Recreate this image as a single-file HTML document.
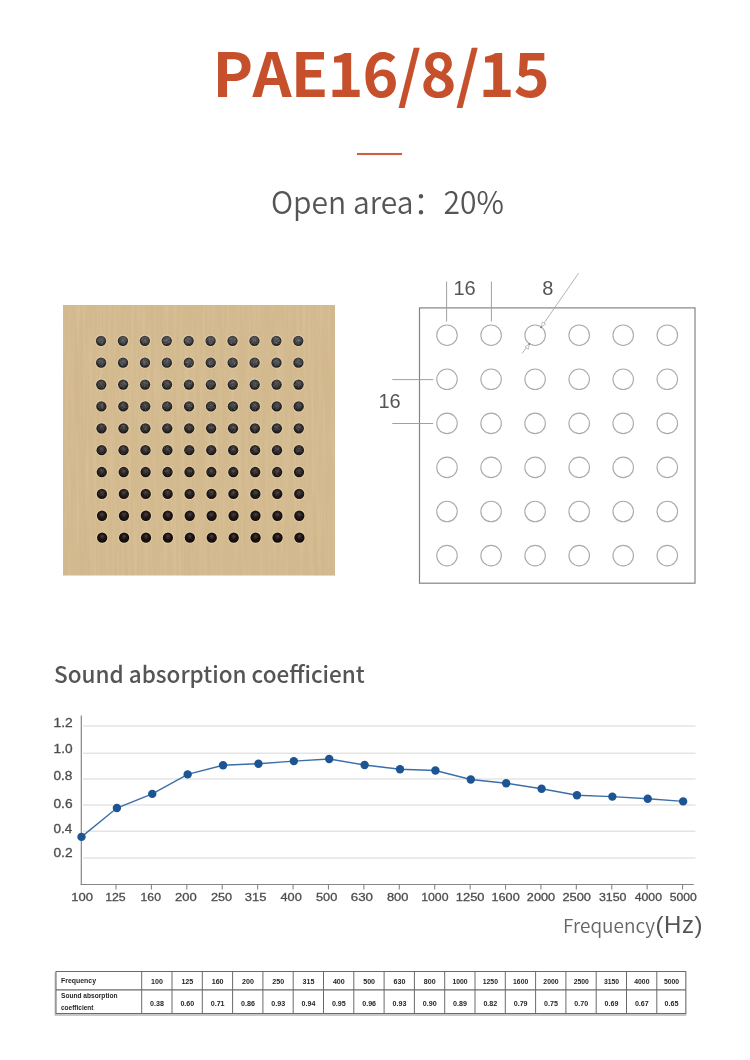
<!DOCTYPE html>
<html><head><meta charset="utf-8">
<style>
html,body{margin:0;padding:0;background:#fff;}
body{width:750px;height:1060px;position:relative;overflow:hidden;will-change:transform;font-family:"Noto Sans CJK SC","Liberation Sans",sans-serif;}
.abs{position:absolute;white-space:nowrap;}
#title{left:212.5px;top:26px;font-size:61px;font-weight:700;color:#c5502b;line-height:89px;letter-spacing:-0.8px;font-kerning:none;}
#bar{left:357px;top:152.6px;width:44.6px;height:2px;background:#cc623d;box-shadow:0 0 0.8px rgba(204,98,61,0.7);}
#open{left:271px;top:178px;font-size:31.5px;font-weight:350;color:#555;line-height:44px;transform:scaleX(0.953);transform-origin:0 0;}
#h2{left:54px;top:657px;font-size:22.5px;font-weight:500;color:#555;line-height:32px;}
#freq{left:563px;top:911px;font-size:19px;font-weight:350;color:#666;line-height:28px;}
#hz{left:655.5px;top:909.5px;letter-spacing:0.6px;font-family:"Liberation Sans",sans-serif;font-size:24px;font-weight:400;color:#555;line-height:30px;}
</style></head>
<body>
<div id="title" class="abs">PAE16/8/15</div>
<div id="bar" class="abs"></div>
<div id="open" class="abs">Open area：20%</div>
<svg class="abs" style="left:0;top:0" width="750" height="1060" viewBox="0 0 750 1060">
<defs><radialGradient id="halo"><stop offset="0.7" stop-color="#f2e0b8" stop-opacity="0.9"/><stop offset="1" stop-color="#f2e0b8" stop-opacity="0"/></radialGradient><radialGradient id="hg0" cx="0.5" cy="0.45" r="0.55" fx="0.5" fy="0.35"><stop offset="0" stop-color="rgb(88, 88, 90)"/><stop offset="0.5" stop-color="rgb(72, 72, 74)"/><stop offset="1" stop-color="rgb(22, 22, 24)"/></radialGradient><radialGradient id="hg1" cx="0.5" cy="0.45" r="0.55" fx="0.5" fy="0.35"><stop offset="0" stop-color="rgb(86, 85, 87)"/><stop offset="0.5" stop-color="rgb(67, 66, 68)"/><stop offset="1" stop-color="rgb(21, 20, 22)"/></radialGradient><radialGradient id="hg2" cx="0.5" cy="0.45" r="0.55" fx="0.5" fy="0.35"><stop offset="0" stop-color="rgb(84, 82, 83)"/><stop offset="0.5" stop-color="rgb(62, 60, 61)"/><stop offset="1" stop-color="rgb(20, 19, 20)"/></radialGradient><radialGradient id="hg3" cx="0.5" cy="0.45" r="0.55" fx="0.5" fy="0.35"><stop offset="0" stop-color="rgb(83, 79, 80)"/><stop offset="0.5" stop-color="rgb(57, 54, 55)"/><stop offset="1" stop-color="rgb(19, 17, 18)"/></radialGradient><radialGradient id="hg4" cx="0.5" cy="0.45" r="0.55" fx="0.5" fy="0.35"><stop offset="0" stop-color="rgb(81, 76, 77)"/><stop offset="0.5" stop-color="rgb(52, 48, 48)"/><stop offset="1" stop-color="rgb(18, 16, 16)"/></radialGradient><radialGradient id="hg5" cx="0.5" cy="0.45" r="0.55" fx="0.5" fy="0.35"><stop offset="0" stop-color="rgb(79, 74, 73)"/><stop offset="0.5" stop-color="rgb(48, 42, 42)"/><stop offset="1" stop-color="rgb(18, 14, 14)"/></radialGradient><radialGradient id="hg6" cx="0.5" cy="0.45" r="0.55" fx="0.5" fy="0.35"><stop offset="0" stop-color="rgb(77, 71, 70)"/><stop offset="0.5" stop-color="rgb(43, 36, 35)"/><stop offset="1" stop-color="rgb(17, 13, 12)"/></radialGradient><radialGradient id="hg7" cx="0.5" cy="0.45" r="0.55" fx="0.5" fy="0.35"><stop offset="0" stop-color="rgb(76, 68, 67)"/><stop offset="0.5" stop-color="rgb(38, 30, 29)"/><stop offset="1" stop-color="rgb(16, 11, 10)"/></radialGradient><radialGradient id="hg8" cx="0.5" cy="0.45" r="0.55" fx="0.5" fy="0.35"><stop offset="0" stop-color="rgb(74, 65, 63)"/><stop offset="0.5" stop-color="rgb(33, 24, 22)"/><stop offset="1" stop-color="rgb(15, 10, 8)"/></radialGradient><radialGradient id="hg9" cx="0.5" cy="0.45" r="0.55" fx="0.5" fy="0.35"><stop offset="0" stop-color="rgb(72, 62, 60)"/><stop offset="0.5" stop-color="rgb(28, 18, 16)"/><stop offset="1" stop-color="rgb(14, 8, 6)"/></radialGradient><filter id="grain" x="0" y="0" width="100%" height="100%"><feTurbulence type="fractalNoise" baseFrequency="0.35 0.012" numOctaves="3" seed="7"/><feColorMatrix type="matrix" values="0 0 0 0 1  0 0 0 0 0.95  0 0 0 0 0.85  1.1 0 0 0 -0.45"/></filter><filter id="grain2" x="0" y="0" width="100%" height="100%"><feTurbulence type="fractalNoise" baseFrequency="0.08 0.006" numOctaves="2" seed="3"/><feColorMatrix type="matrix" values="0 0 0 0 0.55  0 0 0 0 0.40  0 0 0 0 0.20  1.2 0 0 0 -0.6"/></filter><filter id="soft" x="-5%" y="-20%" width="110%" height="140%"><feGaussianBlur stdDeviation="0.28"/></filter><linearGradient id="fadeg" gradientUnits="userSpaceOnUse" x1="0" y1="335" x2="0" y2="545"><stop offset="0" stop-color="#fff"/><stop offset="0.55" stop-color="#999"/><stop offset="1" stop-color="#222"/></linearGradient><mask id="hmask" maskUnits="userSpaceOnUse" x="63" y="305" width="272" height="271"><circle cx="101.00" cy="340.80" r="4.3" fill="url(#fadeg)"/><circle cx="122.92" cy="340.80" r="4.3" fill="url(#fadeg)"/><circle cx="144.84" cy="340.80" r="4.3" fill="url(#fadeg)"/><circle cx="166.76" cy="340.80" r="4.3" fill="url(#fadeg)"/><circle cx="188.68" cy="340.80" r="4.3" fill="url(#fadeg)"/><circle cx="210.60" cy="340.80" r="4.3" fill="url(#fadeg)"/><circle cx="232.52" cy="340.80" r="4.3" fill="url(#fadeg)"/><circle cx="254.44" cy="340.80" r="4.3" fill="url(#fadeg)"/><circle cx="276.36" cy="340.80" r="4.3" fill="url(#fadeg)"/><circle cx="298.28" cy="340.80" r="4.3" fill="url(#fadeg)"/><circle cx="101.13" cy="362.67" r="4.3" fill="url(#fadeg)"/><circle cx="123.05" cy="362.67" r="4.3" fill="url(#fadeg)"/><circle cx="144.97" cy="362.67" r="4.3" fill="url(#fadeg)"/><circle cx="166.89" cy="362.67" r="4.3" fill="url(#fadeg)"/><circle cx="188.81" cy="362.67" r="4.3" fill="url(#fadeg)"/><circle cx="210.73" cy="362.67" r="4.3" fill="url(#fadeg)"/><circle cx="232.65" cy="362.67" r="4.3" fill="url(#fadeg)"/><circle cx="254.57" cy="362.67" r="4.3" fill="url(#fadeg)"/><circle cx="276.49" cy="362.67" r="4.3" fill="url(#fadeg)"/><circle cx="298.41" cy="362.67" r="4.3" fill="url(#fadeg)"/><circle cx="101.26" cy="384.54" r="4.3" fill="url(#fadeg)"/><circle cx="123.18" cy="384.54" r="4.3" fill="url(#fadeg)"/><circle cx="145.10" cy="384.54" r="4.3" fill="url(#fadeg)"/><circle cx="167.02" cy="384.54" r="4.3" fill="url(#fadeg)"/><circle cx="188.94" cy="384.54" r="4.3" fill="url(#fadeg)"/><circle cx="210.86" cy="384.54" r="4.3" fill="url(#fadeg)"/><circle cx="232.78" cy="384.54" r="4.3" fill="url(#fadeg)"/><circle cx="254.70" cy="384.54" r="4.3" fill="url(#fadeg)"/><circle cx="276.62" cy="384.54" r="4.3" fill="url(#fadeg)"/><circle cx="298.54" cy="384.54" r="4.3" fill="url(#fadeg)"/><circle cx="101.39" cy="406.41" r="4.3" fill="url(#fadeg)"/><circle cx="123.31" cy="406.41" r="4.3" fill="url(#fadeg)"/><circle cx="145.23" cy="406.41" r="4.3" fill="url(#fadeg)"/><circle cx="167.15" cy="406.41" r="4.3" fill="url(#fadeg)"/><circle cx="189.07" cy="406.41" r="4.3" fill="url(#fadeg)"/><circle cx="210.99" cy="406.41" r="4.3" fill="url(#fadeg)"/><circle cx="232.91" cy="406.41" r="4.3" fill="url(#fadeg)"/><circle cx="254.83" cy="406.41" r="4.3" fill="url(#fadeg)"/><circle cx="276.75" cy="406.41" r="4.3" fill="url(#fadeg)"/><circle cx="298.67" cy="406.41" r="4.3" fill="url(#fadeg)"/><circle cx="101.52" cy="428.28" r="4.3" fill="url(#fadeg)"/><circle cx="123.44" cy="428.28" r="4.3" fill="url(#fadeg)"/><circle cx="145.36" cy="428.28" r="4.3" fill="url(#fadeg)"/><circle cx="167.28" cy="428.28" r="4.3" fill="url(#fadeg)"/><circle cx="189.20" cy="428.28" r="4.3" fill="url(#fadeg)"/><circle cx="211.12" cy="428.28" r="4.3" fill="url(#fadeg)"/><circle cx="233.04" cy="428.28" r="4.3" fill="url(#fadeg)"/><circle cx="254.96" cy="428.28" r="4.3" fill="url(#fadeg)"/><circle cx="276.88" cy="428.28" r="4.3" fill="url(#fadeg)"/><circle cx="298.80" cy="428.28" r="4.3" fill="url(#fadeg)"/><circle cx="101.65" cy="450.15" r="4.3" fill="url(#fadeg)"/><circle cx="123.57" cy="450.15" r="4.3" fill="url(#fadeg)"/><circle cx="145.49" cy="450.15" r="4.3" fill="url(#fadeg)"/><circle cx="167.41" cy="450.15" r="4.3" fill="url(#fadeg)"/><circle cx="189.33" cy="450.15" r="4.3" fill="url(#fadeg)"/><circle cx="211.25" cy="450.15" r="4.3" fill="url(#fadeg)"/><circle cx="233.17" cy="450.15" r="4.3" fill="url(#fadeg)"/><circle cx="255.09" cy="450.15" r="4.3" fill="url(#fadeg)"/><circle cx="277.01" cy="450.15" r="4.3" fill="url(#fadeg)"/><circle cx="298.93" cy="450.15" r="4.3" fill="url(#fadeg)"/><circle cx="101.78" cy="472.02" r="4.3" fill="url(#fadeg)"/><circle cx="123.70" cy="472.02" r="4.3" fill="url(#fadeg)"/><circle cx="145.62" cy="472.02" r="4.3" fill="url(#fadeg)"/><circle cx="167.54" cy="472.02" r="4.3" fill="url(#fadeg)"/><circle cx="189.46" cy="472.02" r="4.3" fill="url(#fadeg)"/><circle cx="211.38" cy="472.02" r="4.3" fill="url(#fadeg)"/><circle cx="233.30" cy="472.02" r="4.3" fill="url(#fadeg)"/><circle cx="255.22" cy="472.02" r="4.3" fill="url(#fadeg)"/><circle cx="277.14" cy="472.02" r="4.3" fill="url(#fadeg)"/><circle cx="299.06" cy="472.02" r="4.3" fill="url(#fadeg)"/><circle cx="101.91" cy="493.89" r="4.3" fill="url(#fadeg)"/><circle cx="123.83" cy="493.89" r="4.3" fill="url(#fadeg)"/><circle cx="145.75" cy="493.89" r="4.3" fill="url(#fadeg)"/><circle cx="167.67" cy="493.89" r="4.3" fill="url(#fadeg)"/><circle cx="189.59" cy="493.89" r="4.3" fill="url(#fadeg)"/><circle cx="211.51" cy="493.89" r="4.3" fill="url(#fadeg)"/><circle cx="233.43" cy="493.89" r="4.3" fill="url(#fadeg)"/><circle cx="255.35" cy="493.89" r="4.3" fill="url(#fadeg)"/><circle cx="277.27" cy="493.89" r="4.3" fill="url(#fadeg)"/><circle cx="299.19" cy="493.89" r="4.3" fill="url(#fadeg)"/><circle cx="102.04" cy="515.76" r="4.3" fill="url(#fadeg)"/><circle cx="123.96" cy="515.76" r="4.3" fill="url(#fadeg)"/><circle cx="145.88" cy="515.76" r="4.3" fill="url(#fadeg)"/><circle cx="167.80" cy="515.76" r="4.3" fill="url(#fadeg)"/><circle cx="189.72" cy="515.76" r="4.3" fill="url(#fadeg)"/><circle cx="211.64" cy="515.76" r="4.3" fill="url(#fadeg)"/><circle cx="233.56" cy="515.76" r="4.3" fill="url(#fadeg)"/><circle cx="255.48" cy="515.76" r="4.3" fill="url(#fadeg)"/><circle cx="277.40" cy="515.76" r="4.3" fill="url(#fadeg)"/><circle cx="299.32" cy="515.76" r="4.3" fill="url(#fadeg)"/><circle cx="102.17" cy="537.63" r="4.3" fill="url(#fadeg)"/><circle cx="124.09" cy="537.63" r="4.3" fill="url(#fadeg)"/><circle cx="146.01" cy="537.63" r="4.3" fill="url(#fadeg)"/><circle cx="167.93" cy="537.63" r="4.3" fill="url(#fadeg)"/><circle cx="189.85" cy="537.63" r="4.3" fill="url(#fadeg)"/><circle cx="211.77" cy="537.63" r="4.3" fill="url(#fadeg)"/><circle cx="233.69" cy="537.63" r="4.3" fill="url(#fadeg)"/><circle cx="255.61" cy="537.63" r="4.3" fill="url(#fadeg)"/><circle cx="277.53" cy="537.63" r="4.3" fill="url(#fadeg)"/><circle cx="299.45" cy="537.63" r="4.3" fill="url(#fadeg)"/></mask><filter id="mottle" x="0" y="0" width="100%" height="100%"><feTurbulence type="fractalNoise" baseFrequency="0.55" numOctaves="2" seed="11"/><feColorMatrix type="matrix" values="0 0 0 0 0.75  0 0 0 0 0.75  0 0 0 0 0.76  1.6 0 0 0 -0.75"/></filter></defs>
<g id="wood"><rect x="63" y="305" width="272" height="270.5" fill="#d3b98e"/><rect x="63" y="305" width="272" height="270.5" filter="url(#grain)" opacity="0.22"/><rect x="63" y="305" width="272" height="270.5" filter="url(#grain2)" opacity="0.35"/><circle cx="101.00" cy="340.80" r="6.6" fill="url(#halo)"/><circle cx="101.00" cy="340.80" r="5.15" fill="url(#hg0)"/><circle cx="122.92" cy="340.80" r="6.6" fill="url(#halo)"/><circle cx="122.92" cy="340.80" r="5.15" fill="url(#hg0)"/><circle cx="144.84" cy="340.80" r="6.6" fill="url(#halo)"/><circle cx="144.84" cy="340.80" r="5.15" fill="url(#hg0)"/><circle cx="166.76" cy="340.80" r="6.6" fill="url(#halo)"/><circle cx="166.76" cy="340.80" r="5.15" fill="url(#hg0)"/><circle cx="188.68" cy="340.80" r="6.6" fill="url(#halo)"/><circle cx="188.68" cy="340.80" r="5.15" fill="url(#hg0)"/><circle cx="210.60" cy="340.80" r="6.6" fill="url(#halo)"/><circle cx="210.60" cy="340.80" r="5.15" fill="url(#hg0)"/><circle cx="232.52" cy="340.80" r="6.6" fill="url(#halo)"/><circle cx="232.52" cy="340.80" r="5.15" fill="url(#hg0)"/><circle cx="254.44" cy="340.80" r="6.6" fill="url(#halo)"/><circle cx="254.44" cy="340.80" r="5.15" fill="url(#hg0)"/><circle cx="276.36" cy="340.80" r="6.6" fill="url(#halo)"/><circle cx="276.36" cy="340.80" r="5.15" fill="url(#hg0)"/><circle cx="298.28" cy="340.80" r="6.6" fill="url(#halo)"/><circle cx="298.28" cy="340.80" r="5.15" fill="url(#hg0)"/><circle cx="101.13" cy="362.67" r="6.6" fill="url(#halo)"/><circle cx="101.13" cy="362.67" r="5.15" fill="url(#hg1)"/><circle cx="123.05" cy="362.67" r="6.6" fill="url(#halo)"/><circle cx="123.05" cy="362.67" r="5.15" fill="url(#hg1)"/><circle cx="144.97" cy="362.67" r="6.6" fill="url(#halo)"/><circle cx="144.97" cy="362.67" r="5.15" fill="url(#hg1)"/><circle cx="166.89" cy="362.67" r="6.6" fill="url(#halo)"/><circle cx="166.89" cy="362.67" r="5.15" fill="url(#hg1)"/><circle cx="188.81" cy="362.67" r="6.6" fill="url(#halo)"/><circle cx="188.81" cy="362.67" r="5.15" fill="url(#hg1)"/><circle cx="210.73" cy="362.67" r="6.6" fill="url(#halo)"/><circle cx="210.73" cy="362.67" r="5.15" fill="url(#hg1)"/><circle cx="232.65" cy="362.67" r="6.6" fill="url(#halo)"/><circle cx="232.65" cy="362.67" r="5.15" fill="url(#hg1)"/><circle cx="254.57" cy="362.67" r="6.6" fill="url(#halo)"/><circle cx="254.57" cy="362.67" r="5.15" fill="url(#hg1)"/><circle cx="276.49" cy="362.67" r="6.6" fill="url(#halo)"/><circle cx="276.49" cy="362.67" r="5.15" fill="url(#hg1)"/><circle cx="298.41" cy="362.67" r="6.6" fill="url(#halo)"/><circle cx="298.41" cy="362.67" r="5.15" fill="url(#hg1)"/><circle cx="101.26" cy="384.54" r="6.6" fill="url(#halo)"/><circle cx="101.26" cy="384.54" r="5.15" fill="url(#hg2)"/><circle cx="123.18" cy="384.54" r="6.6" fill="url(#halo)"/><circle cx="123.18" cy="384.54" r="5.15" fill="url(#hg2)"/><circle cx="145.10" cy="384.54" r="6.6" fill="url(#halo)"/><circle cx="145.10" cy="384.54" r="5.15" fill="url(#hg2)"/><circle cx="167.02" cy="384.54" r="6.6" fill="url(#halo)"/><circle cx="167.02" cy="384.54" r="5.15" fill="url(#hg2)"/><circle cx="188.94" cy="384.54" r="6.6" fill="url(#halo)"/><circle cx="188.94" cy="384.54" r="5.15" fill="url(#hg2)"/><circle cx="210.86" cy="384.54" r="6.6" fill="url(#halo)"/><circle cx="210.86" cy="384.54" r="5.15" fill="url(#hg2)"/><circle cx="232.78" cy="384.54" r="6.6" fill="url(#halo)"/><circle cx="232.78" cy="384.54" r="5.15" fill="url(#hg2)"/><circle cx="254.70" cy="384.54" r="6.6" fill="url(#halo)"/><circle cx="254.70" cy="384.54" r="5.15" fill="url(#hg2)"/><circle cx="276.62" cy="384.54" r="6.6" fill="url(#halo)"/><circle cx="276.62" cy="384.54" r="5.15" fill="url(#hg2)"/><circle cx="298.54" cy="384.54" r="6.6" fill="url(#halo)"/><circle cx="298.54" cy="384.54" r="5.15" fill="url(#hg2)"/><circle cx="101.39" cy="406.41" r="6.6" fill="url(#halo)"/><circle cx="101.39" cy="406.41" r="5.15" fill="url(#hg3)"/><circle cx="123.31" cy="406.41" r="6.6" fill="url(#halo)"/><circle cx="123.31" cy="406.41" r="5.15" fill="url(#hg3)"/><circle cx="145.23" cy="406.41" r="6.6" fill="url(#halo)"/><circle cx="145.23" cy="406.41" r="5.15" fill="url(#hg3)"/><circle cx="167.15" cy="406.41" r="6.6" fill="url(#halo)"/><circle cx="167.15" cy="406.41" r="5.15" fill="url(#hg3)"/><circle cx="189.07" cy="406.41" r="6.6" fill="url(#halo)"/><circle cx="189.07" cy="406.41" r="5.15" fill="url(#hg3)"/><circle cx="210.99" cy="406.41" r="6.6" fill="url(#halo)"/><circle cx="210.99" cy="406.41" r="5.15" fill="url(#hg3)"/><circle cx="232.91" cy="406.41" r="6.6" fill="url(#halo)"/><circle cx="232.91" cy="406.41" r="5.15" fill="url(#hg3)"/><circle cx="254.83" cy="406.41" r="6.6" fill="url(#halo)"/><circle cx="254.83" cy="406.41" r="5.15" fill="url(#hg3)"/><circle cx="276.75" cy="406.41" r="6.6" fill="url(#halo)"/><circle cx="276.75" cy="406.41" r="5.15" fill="url(#hg3)"/><circle cx="298.67" cy="406.41" r="6.6" fill="url(#halo)"/><circle cx="298.67" cy="406.41" r="5.15" fill="url(#hg3)"/><circle cx="101.52" cy="428.28" r="6.6" fill="url(#halo)"/><circle cx="101.52" cy="428.28" r="5.15" fill="url(#hg4)"/><circle cx="123.44" cy="428.28" r="6.6" fill="url(#halo)"/><circle cx="123.44" cy="428.28" r="5.15" fill="url(#hg4)"/><circle cx="145.36" cy="428.28" r="6.6" fill="url(#halo)"/><circle cx="145.36" cy="428.28" r="5.15" fill="url(#hg4)"/><circle cx="167.28" cy="428.28" r="6.6" fill="url(#halo)"/><circle cx="167.28" cy="428.28" r="5.15" fill="url(#hg4)"/><circle cx="189.20" cy="428.28" r="6.6" fill="url(#halo)"/><circle cx="189.20" cy="428.28" r="5.15" fill="url(#hg4)"/><circle cx="211.12" cy="428.28" r="6.6" fill="url(#halo)"/><circle cx="211.12" cy="428.28" r="5.15" fill="url(#hg4)"/><circle cx="233.04" cy="428.28" r="6.6" fill="url(#halo)"/><circle cx="233.04" cy="428.28" r="5.15" fill="url(#hg4)"/><circle cx="254.96" cy="428.28" r="6.6" fill="url(#halo)"/><circle cx="254.96" cy="428.28" r="5.15" fill="url(#hg4)"/><circle cx="276.88" cy="428.28" r="6.6" fill="url(#halo)"/><circle cx="276.88" cy="428.28" r="5.15" fill="url(#hg4)"/><circle cx="298.80" cy="428.28" r="6.6" fill="url(#halo)"/><circle cx="298.80" cy="428.28" r="5.15" fill="url(#hg4)"/><circle cx="101.65" cy="450.15" r="6.6" fill="url(#halo)"/><circle cx="101.65" cy="450.15" r="5.15" fill="url(#hg5)"/><circle cx="123.57" cy="450.15" r="6.6" fill="url(#halo)"/><circle cx="123.57" cy="450.15" r="5.15" fill="url(#hg5)"/><circle cx="145.49" cy="450.15" r="6.6" fill="url(#halo)"/><circle cx="145.49" cy="450.15" r="5.15" fill="url(#hg5)"/><circle cx="167.41" cy="450.15" r="6.6" fill="url(#halo)"/><circle cx="167.41" cy="450.15" r="5.15" fill="url(#hg5)"/><circle cx="189.33" cy="450.15" r="6.6" fill="url(#halo)"/><circle cx="189.33" cy="450.15" r="5.15" fill="url(#hg5)"/><circle cx="211.25" cy="450.15" r="6.6" fill="url(#halo)"/><circle cx="211.25" cy="450.15" r="5.15" fill="url(#hg5)"/><circle cx="233.17" cy="450.15" r="6.6" fill="url(#halo)"/><circle cx="233.17" cy="450.15" r="5.15" fill="url(#hg5)"/><circle cx="255.09" cy="450.15" r="6.6" fill="url(#halo)"/><circle cx="255.09" cy="450.15" r="5.15" fill="url(#hg5)"/><circle cx="277.01" cy="450.15" r="6.6" fill="url(#halo)"/><circle cx="277.01" cy="450.15" r="5.15" fill="url(#hg5)"/><circle cx="298.93" cy="450.15" r="6.6" fill="url(#halo)"/><circle cx="298.93" cy="450.15" r="5.15" fill="url(#hg5)"/><circle cx="101.78" cy="472.02" r="6.6" fill="url(#halo)"/><circle cx="101.78" cy="472.02" r="5.15" fill="url(#hg6)"/><circle cx="123.70" cy="472.02" r="6.6" fill="url(#halo)"/><circle cx="123.70" cy="472.02" r="5.15" fill="url(#hg6)"/><circle cx="145.62" cy="472.02" r="6.6" fill="url(#halo)"/><circle cx="145.62" cy="472.02" r="5.15" fill="url(#hg6)"/><circle cx="167.54" cy="472.02" r="6.6" fill="url(#halo)"/><circle cx="167.54" cy="472.02" r="5.15" fill="url(#hg6)"/><circle cx="189.46" cy="472.02" r="6.6" fill="url(#halo)"/><circle cx="189.46" cy="472.02" r="5.15" fill="url(#hg6)"/><circle cx="211.38" cy="472.02" r="6.6" fill="url(#halo)"/><circle cx="211.38" cy="472.02" r="5.15" fill="url(#hg6)"/><circle cx="233.30" cy="472.02" r="6.6" fill="url(#halo)"/><circle cx="233.30" cy="472.02" r="5.15" fill="url(#hg6)"/><circle cx="255.22" cy="472.02" r="6.6" fill="url(#halo)"/><circle cx="255.22" cy="472.02" r="5.15" fill="url(#hg6)"/><circle cx="277.14" cy="472.02" r="6.6" fill="url(#halo)"/><circle cx="277.14" cy="472.02" r="5.15" fill="url(#hg6)"/><circle cx="299.06" cy="472.02" r="6.6" fill="url(#halo)"/><circle cx="299.06" cy="472.02" r="5.15" fill="url(#hg6)"/><circle cx="101.91" cy="493.89" r="6.6" fill="url(#halo)"/><circle cx="101.91" cy="493.89" r="5.15" fill="url(#hg7)"/><circle cx="123.83" cy="493.89" r="6.6" fill="url(#halo)"/><circle cx="123.83" cy="493.89" r="5.15" fill="url(#hg7)"/><circle cx="145.75" cy="493.89" r="6.6" fill="url(#halo)"/><circle cx="145.75" cy="493.89" r="5.15" fill="url(#hg7)"/><circle cx="167.67" cy="493.89" r="6.6" fill="url(#halo)"/><circle cx="167.67" cy="493.89" r="5.15" fill="url(#hg7)"/><circle cx="189.59" cy="493.89" r="6.6" fill="url(#halo)"/><circle cx="189.59" cy="493.89" r="5.15" fill="url(#hg7)"/><circle cx="211.51" cy="493.89" r="6.6" fill="url(#halo)"/><circle cx="211.51" cy="493.89" r="5.15" fill="url(#hg7)"/><circle cx="233.43" cy="493.89" r="6.6" fill="url(#halo)"/><circle cx="233.43" cy="493.89" r="5.15" fill="url(#hg7)"/><circle cx="255.35" cy="493.89" r="6.6" fill="url(#halo)"/><circle cx="255.35" cy="493.89" r="5.15" fill="url(#hg7)"/><circle cx="277.27" cy="493.89" r="6.6" fill="url(#halo)"/><circle cx="277.27" cy="493.89" r="5.15" fill="url(#hg7)"/><circle cx="299.19" cy="493.89" r="6.6" fill="url(#halo)"/><circle cx="299.19" cy="493.89" r="5.15" fill="url(#hg7)"/><circle cx="102.04" cy="515.76" r="6.6" fill="url(#halo)"/><circle cx="102.04" cy="515.76" r="5.15" fill="url(#hg8)"/><circle cx="123.96" cy="515.76" r="6.6" fill="url(#halo)"/><circle cx="123.96" cy="515.76" r="5.15" fill="url(#hg8)"/><circle cx="145.88" cy="515.76" r="6.6" fill="url(#halo)"/><circle cx="145.88" cy="515.76" r="5.15" fill="url(#hg8)"/><circle cx="167.80" cy="515.76" r="6.6" fill="url(#halo)"/><circle cx="167.80" cy="515.76" r="5.15" fill="url(#hg8)"/><circle cx="189.72" cy="515.76" r="6.6" fill="url(#halo)"/><circle cx="189.72" cy="515.76" r="5.15" fill="url(#hg8)"/><circle cx="211.64" cy="515.76" r="6.6" fill="url(#halo)"/><circle cx="211.64" cy="515.76" r="5.15" fill="url(#hg8)"/><circle cx="233.56" cy="515.76" r="6.6" fill="url(#halo)"/><circle cx="233.56" cy="515.76" r="5.15" fill="url(#hg8)"/><circle cx="255.48" cy="515.76" r="6.6" fill="url(#halo)"/><circle cx="255.48" cy="515.76" r="5.15" fill="url(#hg8)"/><circle cx="277.40" cy="515.76" r="6.6" fill="url(#halo)"/><circle cx="277.40" cy="515.76" r="5.15" fill="url(#hg8)"/><circle cx="299.32" cy="515.76" r="6.6" fill="url(#halo)"/><circle cx="299.32" cy="515.76" r="5.15" fill="url(#hg8)"/><circle cx="102.17" cy="537.63" r="6.6" fill="url(#halo)"/><circle cx="102.17" cy="537.63" r="5.15" fill="url(#hg9)"/><circle cx="124.09" cy="537.63" r="6.6" fill="url(#halo)"/><circle cx="124.09" cy="537.63" r="5.15" fill="url(#hg9)"/><circle cx="146.01" cy="537.63" r="6.6" fill="url(#halo)"/><circle cx="146.01" cy="537.63" r="5.15" fill="url(#hg9)"/><circle cx="167.93" cy="537.63" r="6.6" fill="url(#halo)"/><circle cx="167.93" cy="537.63" r="5.15" fill="url(#hg9)"/><circle cx="189.85" cy="537.63" r="6.6" fill="url(#halo)"/><circle cx="189.85" cy="537.63" r="5.15" fill="url(#hg9)"/><circle cx="211.77" cy="537.63" r="6.6" fill="url(#halo)"/><circle cx="211.77" cy="537.63" r="5.15" fill="url(#hg9)"/><circle cx="233.69" cy="537.63" r="6.6" fill="url(#halo)"/><circle cx="233.69" cy="537.63" r="5.15" fill="url(#hg9)"/><circle cx="255.61" cy="537.63" r="6.6" fill="url(#halo)"/><circle cx="255.61" cy="537.63" r="5.15" fill="url(#hg9)"/><circle cx="277.53" cy="537.63" r="6.6" fill="url(#halo)"/><circle cx="277.53" cy="537.63" r="5.15" fill="url(#hg9)"/><circle cx="299.45" cy="537.63" r="6.6" fill="url(#halo)"/><circle cx="299.45" cy="537.63" r="5.15" fill="url(#hg9)"/><rect x="63" y="305" width="272" height="271" filter="url(#mottle)" mask="url(#hmask)" opacity="0.5"/></g>
<g id="diagram"><rect x="419.5" y="307.9" width="275.5" height="275.3" fill="none" stroke="#8a8282" stroke-width="1.2"/><circle cx="447.0" cy="335.2" r="10.25" fill="none" stroke="#ababab" stroke-width="1.1"/><circle cx="491.1" cy="335.2" r="10.25" fill="none" stroke="#ababab" stroke-width="1.1"/><circle cx="535.1" cy="335.2" r="10.25" fill="none" stroke="#ababab" stroke-width="1.1"/><circle cx="579.2" cy="335.2" r="10.25" fill="none" stroke="#ababab" stroke-width="1.1"/><circle cx="623.2" cy="335.2" r="10.25" fill="none" stroke="#ababab" stroke-width="1.1"/><circle cx="667.3" cy="335.2" r="10.25" fill="none" stroke="#ababab" stroke-width="1.1"/><circle cx="447.0" cy="379.3" r="10.25" fill="none" stroke="#ababab" stroke-width="1.1"/><circle cx="491.1" cy="379.3" r="10.25" fill="none" stroke="#ababab" stroke-width="1.1"/><circle cx="535.1" cy="379.3" r="10.25" fill="none" stroke="#ababab" stroke-width="1.1"/><circle cx="579.2" cy="379.3" r="10.25" fill="none" stroke="#ababab" stroke-width="1.1"/><circle cx="623.2" cy="379.3" r="10.25" fill="none" stroke="#ababab" stroke-width="1.1"/><circle cx="667.3" cy="379.3" r="10.25" fill="none" stroke="#ababab" stroke-width="1.1"/><circle cx="447.0" cy="423.4" r="10.25" fill="none" stroke="#ababab" stroke-width="1.1"/><circle cx="491.1" cy="423.4" r="10.25" fill="none" stroke="#ababab" stroke-width="1.1"/><circle cx="535.1" cy="423.4" r="10.25" fill="none" stroke="#ababab" stroke-width="1.1"/><circle cx="579.2" cy="423.4" r="10.25" fill="none" stroke="#ababab" stroke-width="1.1"/><circle cx="623.2" cy="423.4" r="10.25" fill="none" stroke="#ababab" stroke-width="1.1"/><circle cx="667.3" cy="423.4" r="10.25" fill="none" stroke="#ababab" stroke-width="1.1"/><circle cx="447.0" cy="467.4" r="10.25" fill="none" stroke="#ababab" stroke-width="1.1"/><circle cx="491.1" cy="467.4" r="10.25" fill="none" stroke="#ababab" stroke-width="1.1"/><circle cx="535.1" cy="467.4" r="10.25" fill="none" stroke="#ababab" stroke-width="1.1"/><circle cx="579.2" cy="467.4" r="10.25" fill="none" stroke="#ababab" stroke-width="1.1"/><circle cx="623.2" cy="467.4" r="10.25" fill="none" stroke="#ababab" stroke-width="1.1"/><circle cx="667.3" cy="467.4" r="10.25" fill="none" stroke="#ababab" stroke-width="1.1"/><circle cx="447.0" cy="511.5" r="10.25" fill="none" stroke="#ababab" stroke-width="1.1"/><circle cx="491.1" cy="511.5" r="10.25" fill="none" stroke="#ababab" stroke-width="1.1"/><circle cx="535.1" cy="511.5" r="10.25" fill="none" stroke="#ababab" stroke-width="1.1"/><circle cx="579.2" cy="511.5" r="10.25" fill="none" stroke="#ababab" stroke-width="1.1"/><circle cx="623.2" cy="511.5" r="10.25" fill="none" stroke="#ababab" stroke-width="1.1"/><circle cx="667.3" cy="511.5" r="10.25" fill="none" stroke="#ababab" stroke-width="1.1"/><circle cx="447.0" cy="555.6" r="10.25" fill="none" stroke="#ababab" stroke-width="1.1"/><circle cx="491.1" cy="555.6" r="10.25" fill="none" stroke="#ababab" stroke-width="1.1"/><circle cx="535.1" cy="555.6" r="10.25" fill="none" stroke="#ababab" stroke-width="1.1"/><circle cx="579.2" cy="555.6" r="10.25" fill="none" stroke="#ababab" stroke-width="1.1"/><circle cx="623.2" cy="555.6" r="10.25" fill="none" stroke="#ababab" stroke-width="1.1"/><circle cx="667.3" cy="555.6" r="10.25" fill="none" stroke="#ababab" stroke-width="1.1"/><line x1="446.6" y1="281.5" x2="446.6" y2="321.5" stroke="#a0a0a0" stroke-width="1"/><line x1="491.4" y1="281.5" x2="491.4" y2="321.5" stroke="#a0a0a0" stroke-width="1"/><line x1="392.3" y1="379.6" x2="433.2" y2="379.6" stroke="#a0a0a0" stroke-width="1"/><line x1="392.3" y1="423.5" x2="433.2" y2="423.5" stroke="#a0a0a0" stroke-width="1"/><line x1="578.6" y1="273.2" x2="541.3" y2="327.0" stroke="#a0a0a0" stroke-width="0.8"/><line x1="529.3" y1="344.0" x2="522.2" y2="353.2" stroke="#a0a0a0" stroke-width="0.8"/><path d="M541.3,327.0 L542.3,321.8 L545.6,324.2 Z" stroke="#999" stroke-width="0.6" fill="#fff"/><path d="M529.3,344.0 L528.3,349.2 L525.0,346.8 Z" stroke="#999" stroke-width="0.6" fill="#fff"/><circle cx="541.1" cy="327.3" r="0.9" fill="#777"/><circle cx="529.4" cy="343.8" r="0.9" fill="#777"/><g font-family="Liberation Sans" fill="#555"><text x="453.5" y="295" font-size="20">16</text><text x="542.3" y="294.9" font-size="20">8</text><text x="378.5" y="408.2" font-size="20">16</text></g></g>
<g id="chart"><line x1="83" y1="726.0" x2="695.5" y2="726.0" stroke="#e3e5e3" stroke-width="1.5"/><line x1="83" y1="753.2" x2="695.5" y2="753.2" stroke="#e3e5e3" stroke-width="1.5"/><line x1="83" y1="779.0" x2="695.5" y2="779.0" stroke="#e3e5e3" stroke-width="1.5"/><line x1="83" y1="805.1" x2="695.5" y2="805.1" stroke="#e3e5e3" stroke-width="1.5"/><line x1="83" y1="831.2" x2="695.5" y2="831.2" stroke="#e3e5e3" stroke-width="1.5"/><line x1="83" y1="858.0" x2="695.5" y2="858.0" stroke="#e3e5e3" stroke-width="1.5"/><g font-family="Liberation Sans" fill="#4d4d4d" stroke="#4d4d4d" stroke-width="0.3"><text x="53.55" y="726.70" font-size="11.9" textLength="19.14" lengthAdjust="spacingAndGlyphs">1.2</text><text x="53.56" y="752.80" font-size="11.9" textLength="18.97" lengthAdjust="spacingAndGlyphs">1.0</text><text x="53.47" y="779.50" font-size="11.9" textLength="18.92" lengthAdjust="spacingAndGlyphs">0.8</text><text x="53.46" y="808.30" font-size="11.9" textLength="19.14" lengthAdjust="spacingAndGlyphs">0.6</text><text x="53.47" y="832.70" font-size="11.9" textLength="18.72" lengthAdjust="spacingAndGlyphs">0.4</text><text x="53.47" y="856.70" font-size="11.9" textLength="19.02" lengthAdjust="spacingAndGlyphs">0.2</text><text x="71.31" y="901.00" font-size="11.7" textLength="21.70" lengthAdjust="spacingAndGlyphs">100</text><text x="105.16" y="901.00" font-size="11.7" textLength="20.56" lengthAdjust="spacingAndGlyphs">125</text><text x="140.57" y="901.00" font-size="11.7" textLength="20.41" lengthAdjust="spacingAndGlyphs">160</text><text x="175.05" y="901.00" font-size="11.7" textLength="21.66" lengthAdjust="spacingAndGlyphs">200</text><text x="211.06" y="901.00" font-size="11.7" textLength="21.13" lengthAdjust="spacingAndGlyphs">250</text><text x="244.81" y="901.00" font-size="11.7" textLength="21.64" lengthAdjust="spacingAndGlyphs">315</text><text x="280.51" y="901.00" font-size="11.7" textLength="21.29" lengthAdjust="spacingAndGlyphs">400</text><text x="315.99" y="901.00" font-size="11.7" textLength="21.31" lengthAdjust="spacingAndGlyphs">500</text><text x="350.82" y="901.00" font-size="11.7" textLength="22.20" lengthAdjust="spacingAndGlyphs">630</text><text x="386.94" y="901.00" font-size="11.7" textLength="21.57" lengthAdjust="spacingAndGlyphs">800</text><text x="421.16" y="901.00" font-size="11.7" textLength="27.31" lengthAdjust="spacingAndGlyphs">1000</text><text x="455.82" y="901.00" font-size="11.7" textLength="28.69" lengthAdjust="spacingAndGlyphs">1250</text><text x="491.54" y="901.00" font-size="11.7" textLength="28.16" lengthAdjust="spacingAndGlyphs">1600</text><text x="526.86" y="901.00" font-size="11.7" textLength="28.34" lengthAdjust="spacingAndGlyphs">2000</text><text x="562.45" y="901.00" font-size="11.7" textLength="28.55" lengthAdjust="spacingAndGlyphs">2500</text><text x="598.93" y="901.00" font-size="11.7" textLength="27.56" lengthAdjust="spacingAndGlyphs">3150</text><text x="634.72" y="901.00" font-size="11.7" textLength="27.26" lengthAdjust="spacingAndGlyphs">4000</text><text x="669.71" y="901.00" font-size="11.7" textLength="27.06" lengthAdjust="spacingAndGlyphs">5000</text></g><line x1="81.3" y1="715.4" x2="81.3" y2="885" stroke="#8a8585" stroke-width="1.2"/><line x1="80.7" y1="884.5" x2="693.8" y2="884.5" stroke="#8a8585" stroke-width="1.2"/><line x1="116.01" y1="884.5" x2="116.01" y2="889.6" stroke="#8a8585" stroke-width="1.1"/><line x1="151.42" y1="884.5" x2="151.42" y2="889.6" stroke="#8a8585" stroke-width="1.1"/><line x1="186.83" y1="884.5" x2="186.83" y2="889.6" stroke="#8a8585" stroke-width="1.1"/><line x1="222.24" y1="884.5" x2="222.24" y2="889.6" stroke="#8a8585" stroke-width="1.1"/><line x1="257.65" y1="884.5" x2="257.65" y2="889.6" stroke="#8a8585" stroke-width="1.1"/><line x1="293.06" y1="884.5" x2="293.06" y2="889.6" stroke="#8a8585" stroke-width="1.1"/><line x1="328.47" y1="884.5" x2="328.47" y2="889.6" stroke="#8a8585" stroke-width="1.1"/><line x1="363.88" y1="884.5" x2="363.88" y2="889.6" stroke="#8a8585" stroke-width="1.1"/><line x1="399.29" y1="884.5" x2="399.29" y2="889.6" stroke="#8a8585" stroke-width="1.1"/><line x1="434.70" y1="884.5" x2="434.70" y2="889.6" stroke="#8a8585" stroke-width="1.1"/><line x1="470.11" y1="884.5" x2="470.11" y2="889.6" stroke="#8a8585" stroke-width="1.1"/><line x1="505.52" y1="884.5" x2="505.52" y2="889.6" stroke="#8a8585" stroke-width="1.1"/><line x1="540.93" y1="884.5" x2="540.93" y2="889.6" stroke="#8a8585" stroke-width="1.1"/><line x1="576.34" y1="884.5" x2="576.34" y2="889.6" stroke="#8a8585" stroke-width="1.1"/><line x1="611.75" y1="884.5" x2="611.75" y2="889.6" stroke="#8a8585" stroke-width="1.1"/><line x1="647.16" y1="884.5" x2="647.16" y2="889.6" stroke="#8a8585" stroke-width="1.1"/><line x1="682.57" y1="884.5" x2="682.57" y2="889.6" stroke="#8a8585" stroke-width="1.1"/><polyline points="81.50,836.9 116.89,808.0 152.28,793.9 187.67,774.4 223.06,765.3 258.45,763.7 293.84,761.1 329.23,759.0 364.62,765.0 400.01,769.2 435.40,770.5 470.79,779.5 506.18,783.3 541.57,788.8 576.96,795.2 612.35,796.6 647.74,798.8 683.13,801.4" fill="none" stroke="#3c6ea8" stroke-width="1.4"/><circle cx="81.50" cy="836.9" r="4.2" fill="#1d5492"/><circle cx="116.89" cy="808.0" r="4.2" fill="#1d5492"/><circle cx="152.28" cy="793.9" r="4.2" fill="#1d5492"/><circle cx="187.67" cy="774.4" r="4.2" fill="#1d5492"/><circle cx="223.06" cy="765.3" r="4.2" fill="#1d5492"/><circle cx="258.45" cy="763.7" r="4.2" fill="#1d5492"/><circle cx="293.84" cy="761.1" r="4.2" fill="#1d5492"/><circle cx="329.23" cy="759.0" r="4.2" fill="#1d5492"/><circle cx="364.62" cy="765.0" r="4.2" fill="#1d5492"/><circle cx="400.01" cy="769.2" r="4.2" fill="#1d5492"/><circle cx="435.40" cy="770.5" r="4.2" fill="#1d5492"/><circle cx="470.79" cy="779.5" r="4.2" fill="#1d5492"/><circle cx="506.18" cy="783.3" r="4.2" fill="#1d5492"/><circle cx="541.57" cy="788.8" r="4.2" fill="#1d5492"/><circle cx="576.96" cy="795.2" r="4.2" fill="#1d5492"/><circle cx="612.35" cy="796.6" r="4.2" fill="#1d5492"/><circle cx="647.74" cy="798.8" r="4.2" fill="#1d5492"/><circle cx="683.13" cy="801.4" r="4.2" fill="#1d5492"/></g>
<g id="table"><rect x="54.5" y="972.5" width="631.8" height="43.5" fill="#c8c8c8"/><rect x="56.0" y="971.5" width="629.8" height="42.0" fill="#fff" stroke="#6a6a6a" stroke-width="1"/><line x1="56.0" y1="989.8" x2="685.8" y2="989.8" stroke="#6a6a6a" stroke-width="1.3"/><line x1="141.70" y1="971.5" x2="141.70" y2="1013.5" stroke="#6a6a6a" stroke-width="1"/><line x1="172.00" y1="971.5" x2="172.00" y2="1013.5" stroke="#6a6a6a" stroke-width="1"/><line x1="202.30" y1="971.5" x2="202.30" y2="1013.5" stroke="#6a6a6a" stroke-width="1"/><line x1="232.60" y1="971.5" x2="232.60" y2="1013.5" stroke="#6a6a6a" stroke-width="1"/><line x1="262.90" y1="971.5" x2="262.90" y2="1013.5" stroke="#6a6a6a" stroke-width="1"/><line x1="293.20" y1="971.5" x2="293.20" y2="1013.5" stroke="#6a6a6a" stroke-width="1"/><line x1="323.50" y1="971.5" x2="323.50" y2="1013.5" stroke="#6a6a6a" stroke-width="1"/><line x1="353.80" y1="971.5" x2="353.80" y2="1013.5" stroke="#6a6a6a" stroke-width="1"/><line x1="384.10" y1="971.5" x2="384.10" y2="1013.5" stroke="#6a6a6a" stroke-width="1"/><line x1="414.40" y1="971.5" x2="414.40" y2="1013.5" stroke="#6a6a6a" stroke-width="1"/><line x1="444.70" y1="971.5" x2="444.70" y2="1013.5" stroke="#6a6a6a" stroke-width="1"/><line x1="475.00" y1="971.5" x2="475.00" y2="1013.5" stroke="#6a6a6a" stroke-width="1"/><line x1="505.30" y1="971.5" x2="505.30" y2="1013.5" stroke="#6a6a6a" stroke-width="1"/><line x1="535.60" y1="971.5" x2="535.60" y2="1013.5" stroke="#6a6a6a" stroke-width="1"/><line x1="565.90" y1="971.5" x2="565.90" y2="1013.5" stroke="#6a6a6a" stroke-width="1"/><line x1="596.20" y1="971.5" x2="596.20" y2="1013.5" stroke="#6a6a6a" stroke-width="1"/><line x1="626.50" y1="971.5" x2="626.50" y2="1013.5" stroke="#6a6a6a" stroke-width="1"/><line x1="656.80" y1="971.5" x2="656.80" y2="1013.5" stroke="#6a6a6a" stroke-width="1"/><g font-family="Liberation Sans" font-weight="700" fill="#262626" filter="url(#soft)"><text x="61" y="983.3" font-size="7" textLength="35" lengthAdjust="spacingAndGlyphs">Frequency</text><text x="61" y="998" font-size="7" textLength="56.5" lengthAdjust="spacingAndGlyphs">Sound absorption</text><text x="61" y="1010.4" font-size="7" textLength="32.5" lengthAdjust="spacingAndGlyphs">coefficient</text><text x="157.05" y="984.1" text-anchor="middle" font-size="6.6" textLength="11.9" lengthAdjust="spacingAndGlyphs">100</text><text x="157.05" y="1005.5" text-anchor="middle" font-size="6.6" textLength="13.9" lengthAdjust="spacingAndGlyphs">0.38</text><text x="187.35" y="984.1" text-anchor="middle" font-size="6.6" textLength="11.9" lengthAdjust="spacingAndGlyphs">125</text><text x="187.35" y="1005.5" text-anchor="middle" font-size="6.6" textLength="13.9" lengthAdjust="spacingAndGlyphs">0.60</text><text x="217.65" y="984.1" text-anchor="middle" font-size="6.6" textLength="11.9" lengthAdjust="spacingAndGlyphs">160</text><text x="217.65" y="1005.5" text-anchor="middle" font-size="6.6" textLength="13.9" lengthAdjust="spacingAndGlyphs">0.71</text><text x="247.95" y="984.1" text-anchor="middle" font-size="6.6" textLength="11.9" lengthAdjust="spacingAndGlyphs">200</text><text x="247.95" y="1005.5" text-anchor="middle" font-size="6.6" textLength="13.9" lengthAdjust="spacingAndGlyphs">0.86</text><text x="278.25" y="984.1" text-anchor="middle" font-size="6.6" textLength="11.9" lengthAdjust="spacingAndGlyphs">250</text><text x="278.25" y="1005.5" text-anchor="middle" font-size="6.6" textLength="13.9" lengthAdjust="spacingAndGlyphs">0.93</text><text x="308.55" y="984.1" text-anchor="middle" font-size="6.6" textLength="11.9" lengthAdjust="spacingAndGlyphs">315</text><text x="308.55" y="1005.5" text-anchor="middle" font-size="6.6" textLength="13.9" lengthAdjust="spacingAndGlyphs">0.94</text><text x="338.85" y="984.1" text-anchor="middle" font-size="6.6" textLength="11.9" lengthAdjust="spacingAndGlyphs">400</text><text x="338.85" y="1005.5" text-anchor="middle" font-size="6.6" textLength="13.9" lengthAdjust="spacingAndGlyphs">0.95</text><text x="369.15" y="984.1" text-anchor="middle" font-size="6.6" textLength="11.9" lengthAdjust="spacingAndGlyphs">500</text><text x="369.15" y="1005.5" text-anchor="middle" font-size="6.6" textLength="13.9" lengthAdjust="spacingAndGlyphs">0.96</text><text x="399.45" y="984.1" text-anchor="middle" font-size="6.6" textLength="11.9" lengthAdjust="spacingAndGlyphs">630</text><text x="399.45" y="1005.5" text-anchor="middle" font-size="6.6" textLength="13.9" lengthAdjust="spacingAndGlyphs">0.93</text><text x="429.75" y="984.1" text-anchor="middle" font-size="6.6" textLength="11.9" lengthAdjust="spacingAndGlyphs">800</text><text x="429.75" y="1005.5" text-anchor="middle" font-size="6.6" textLength="13.9" lengthAdjust="spacingAndGlyphs">0.90</text><text x="460.05" y="984.1" text-anchor="middle" font-size="6.6" textLength="15.2" lengthAdjust="spacingAndGlyphs">1000</text><text x="460.05" y="1005.5" text-anchor="middle" font-size="6.6" textLength="13.9" lengthAdjust="spacingAndGlyphs">0.89</text><text x="490.35" y="984.1" text-anchor="middle" font-size="6.6" textLength="15.2" lengthAdjust="spacingAndGlyphs">1250</text><text x="490.35" y="1005.5" text-anchor="middle" font-size="6.6" textLength="13.9" lengthAdjust="spacingAndGlyphs">0.82</text><text x="520.65" y="984.1" text-anchor="middle" font-size="6.6" textLength="15.2" lengthAdjust="spacingAndGlyphs">1600</text><text x="520.65" y="1005.5" text-anchor="middle" font-size="6.6" textLength="13.9" lengthAdjust="spacingAndGlyphs">0.79</text><text x="550.95" y="984.1" text-anchor="middle" font-size="6.6" textLength="15.2" lengthAdjust="spacingAndGlyphs">2000</text><text x="550.95" y="1005.5" text-anchor="middle" font-size="6.6" textLength="13.9" lengthAdjust="spacingAndGlyphs">0.75</text><text x="581.25" y="984.1" text-anchor="middle" font-size="6.6" textLength="15.2" lengthAdjust="spacingAndGlyphs">2500</text><text x="581.25" y="1005.5" text-anchor="middle" font-size="6.6" textLength="13.9" lengthAdjust="spacingAndGlyphs">0.70</text><text x="611.55" y="984.1" text-anchor="middle" font-size="6.6" textLength="15.2" lengthAdjust="spacingAndGlyphs">3150</text><text x="611.55" y="1005.5" text-anchor="middle" font-size="6.6" textLength="13.9" lengthAdjust="spacingAndGlyphs">0.69</text><text x="641.85" y="984.1" text-anchor="middle" font-size="6.6" textLength="15.2" lengthAdjust="spacingAndGlyphs">4000</text><text x="641.85" y="1005.5" text-anchor="middle" font-size="6.6" textLength="13.9" lengthAdjust="spacingAndGlyphs">0.67</text><text x="671.50" y="984.1" text-anchor="middle" font-size="6.6" textLength="15.2" lengthAdjust="spacingAndGlyphs">5000</text><text x="671.50" y="1005.5" text-anchor="middle" font-size="6.6" textLength="13.9" lengthAdjust="spacingAndGlyphs">0.65</text></g></g>
</svg>
<div id="h2" class="abs">Sound absorption coefficient</div>
<div id="freq" class="abs">Frequency</div>
<div id="hz" class="abs">(Hz)</div>
</body></html>
